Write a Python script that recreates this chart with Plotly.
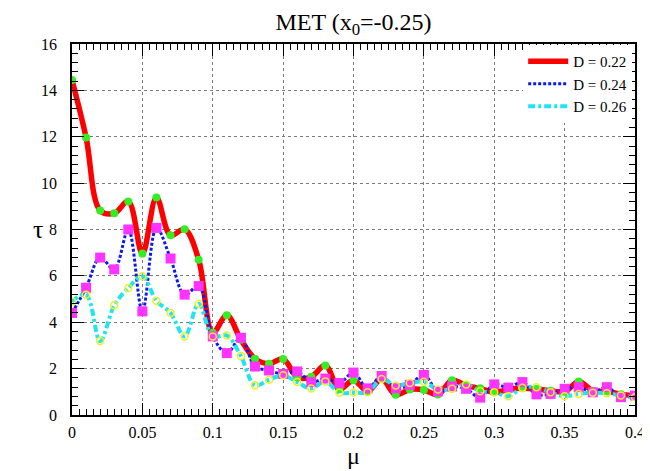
import plotly.graph_objects as go

mu = [round(i * 0.01, 2) for i in range(41)]

tau_d022 = [14.45, 11.97, 8.82, 8.70, 9.21, 6.96, 9.38, 7.75, 8.01, 6.70,
            3.55, 4.30, 3.25, 2.43, 2.21, 2.42, 1.63, 1.65, 2.14, 1.11,
            1.50, 1.02, 1.55, 0.87, 1.10, 1.08, 0.88, 1.50, 1.27, 1.15,
            0.98, 1.10, 1.15, 1.12, 1.05, 1.00, 1.45, 1.05, 1.02, 0.90, 0.82]

tau_d024 = [4.40, 5.49, 6.79, 6.28, 8.00, 4.47, 8.07, 6.75, 5.19, 5.56,
            3.39, 2.67, 3.33, 2.09, 1.92, 1.77, 1.88, 1.42, 1.57, 1.38,
            1.83, 1.15, 1.68, 1.15, 1.30, 1.73, 1.02, 1.23, 1.13, 0.75,
            1.32, 1.18, 1.42, 0.89, 0.91, 1.13, 1.20, 0.98, 1.20, 0.77, 0.84]

tau_d026 = [4.90, 5.19, 3.19, 4.73, 5.48, 5.98, 4.92, 4.40, 3.39, 4.80,
            3.39, 3.43, 2.54, 1.28, 1.52, 1.71, 1.42, 1.14, 1.45, 0.96,
            0.97, 0.98, 1.55, 1.27, 1.38, 1.43, 1.10, 1.13, 1.32, 1.02,
            0.98, 0.81, 1.17, 1.20, 0.98, 0.81, 0.91, 0.96, 0.94, 0.84, 0.77]

series_names = ["D = 0.22", "D = 0.24", "D = 0.26"]
x_tick_vals = [0, 0.05, 0.1, 0.15, 0.2, 0.25, 0.3, 0.35, 0.4]
x_tick_text = ["0", "0.05", "0.1", "0.15", "0.2", "0.25", "0.3", "0.35", "0.4"]
y_tick_vals = [0, 2, 4, 6, 8, 10, 12, 14, 16]

FONT = "Liberation Serif"

fig = go.Figure()

# lines
fig.add_trace(go.Scatter(x=mu, y=tau_d022, mode="lines", name=series_names[0],
                         line=dict(color="#ff0000", width=5.5, shape="spline", smoothing=1.0)))
fig.add_trace(go.Scatter(x=mu, y=tau_d024, mode="lines", name=series_names[1],
                         line=dict(color="#0a1aee", width=3, dash="3px,2px", shape="spline", smoothing=1.0)))
fig.add_trace(go.Scatter(x=mu, y=tau_d026, mode="lines", name=series_names[2],
                         line=dict(color="#1de6f2", width=4, dash="7px,3px,3px,3px", shape="spline", smoothing=1.0)))

# markers
fig.add_trace(go.Scatter(x=mu, y=tau_d022, mode="markers", showlegend=False, hoverinfo="skip",
                         marker=dict(symbol="circle", size=8, color="#33ee22")))
fig.add_trace(go.Scatter(x=mu, y=tau_d024, mode="markers", showlegend=False, hoverinfo="skip",
                         marker=dict(symbol="square", size=10, color="#ff33ff")))
fig.add_trace(go.Scatter(x=mu, y=tau_d026, mode="markers", showlegend=False, hoverinfo="skip",
                         marker=dict(symbol="circle-open", size=7, color="#f0f020",
                                     line=dict(width=1.5, color="#f0f020"))))

axis_common = dict(
    showline=True, linecolor="black", linewidth=1.5, mirror="allticks",
    ticks="inside", ticklen=12, tickwidth=1.2, tickcolor="black",
    showgrid=True, gridcolor="#7a7a7a", griddash="dot", gridwidth=1,
    zeroline=False, automargin=False,
    tickfont=dict(family=FONT, size=16, color="black"),
)

fig.update_xaxes(range=[0, 0.4], tickvals=x_tick_vals, ticktext=x_tick_text,
                 minor=dict(dtick=0.005, ticks="inside", ticklen=6, tickcolor="black", showgrid=False),
                 ticklabelstandoff=2, **axis_common)
fig.update_yaxes(range=[0, 16], tickvals=y_tick_vals,
                 minor=dict(dtick=0.4, tick0=0, ticks="inside", ticklen=6, tickcolor="black", showgrid=False),
                 ticklabelstandoff=10, **axis_common)

fig.add_annotation(text="τ", xref="paper", yref="paper", x=-0.06, y=0.5,
                   xanchor="center", yanchor="middle",
                   showarrow=False, font=dict(family=FONT, size=26, color="black"))
fig.add_annotation(text="μ", xref="paper", yref="paper", x=0.5, y=-0.11,
                   xanchor="center", yanchor="middle",
                   showarrow=False, font=dict(family=FONT, size=24, color="black"))

# page body has an 8px margin: size the figure to fit the 650x471 window
fig.update_layout(
    width=642, height=463,
    margin=dict(l=64, r=15, t=36, b=56),
    paper_bgcolor="white", plot_bgcolor="white",
    title=dict(text="MET (x<sub>0</sub>=-0.25)", x=0.5, xref="paper", xanchor="center",
               y=0.97, yanchor="middle",
               font=dict(family=FONT, size=24, color="black")),
    legend=dict(x=0.995, xanchor="right", y=0.997, yanchor="top",
                bgcolor="white", borderwidth=0,
                font=dict(family=FONT, size=15, color="black"),
                tracegroupgap=0, itemwidth=40),
    showlegend=True,
)

fig.write_html("out.html")
